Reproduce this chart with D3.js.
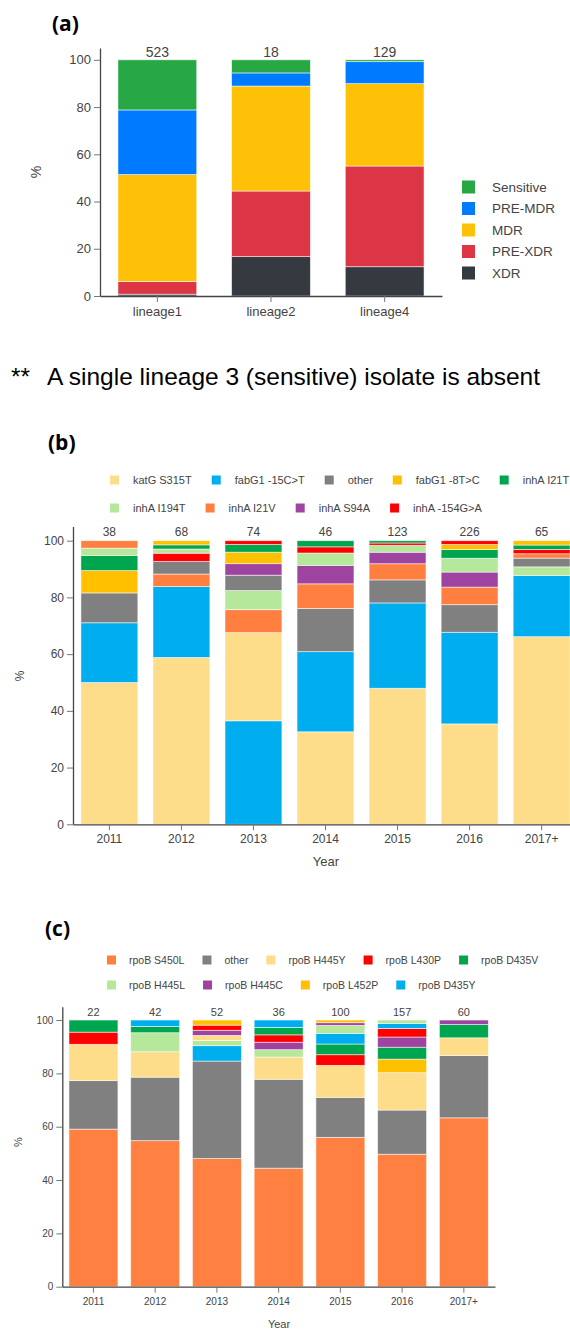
<!DOCTYPE html>
<html>
<head>
<meta charset="utf-8">
<script src="https://cdn.jsdelivr.net/npm/d3@7"></script>
<style>
  body { margin: 0; background: #fff; }
  svg { display: block; }
  text { font-family: "Liberation Sans", Arial, sans-serif; fill: #444; }
</style>
</head>
<body>
<svg id="chart" width="570" height="1331"></svg>
<script>
// ---------- Panel (a): resistance class by lineage (isolate counts) ----------
const lineages = ["lineage1", "lineage2", "lineage4"];
const classNames = ["XDR", "PRE-XDR", "MDR", "PRE-MDR", "Sensitive"];          // stacked bottom -> top
const classColors = ["#343a40", "#dc3545", "#ffc107", "#007bff", "#28a745"];
const countXDR = [4, 3, 16];
const countPreXDR = [28, 5, 55];
const countMDR = [237, 8, 45];
const countPreMDR = [143, 1, 12];
const countSensitive = [111, 1, 1];

// ---------- Panel (b): isoniazid resistance mutations by year ----------
const years = ["2011", "2012", "2013", "2014", "2015", "2016", "2017+"];
const inhNames = ["katG S315T", "fabG1 -15C>T", "other", "fabG1 -8T>C", "inhA I21T",
                  "inhA I194T", "inhA I21V", "inhA S94A", "inhA -154G>A"];
const inhColors = ["#fddc8a", "#00adef", "#808080", "#ffc000", "#00a550",
                   "#b5e89a", "#ff7f41", "#9e44a0", "#ff0000"];
const katG_S315T   = [19, 40, 23, 15, 59, 80, 43];
const fabG1_m15CT  = [8, 17, 27, 13, 37, 73, 14];
const inhOther     = [4, 3, 4, 7, 10, 22, 2];
const fabG1_m8TC   = [3, 1, 3, 0, 0, 4, 1];
const inhA_I21T    = [2, 1, 2, 1, 1, 7, 1];
const inhA_I194T   = [1, 1, 5, 2, 3, 11, 2];
const inhA_I21V    = [1, 3, 6, 4, 7, 14, 1];
const inhA_S94A    = [0, 0, 3, 3, 5, 12, 0];
const inhA_m154GA  = [0, 2, 1, 1, 1, 3, 1];
// order used when two mutations have the same count in a year
const inhTieOrder = ["katG S315T", "fabG1 -15C>T", "inhA I194T", "inhA I21V", "inhA S94A",
                     "other", "inhA -154G>A", "inhA I21T", "fabG1 -8T>C"];

// ---------- Panel (c): rifampicin resistance mutations by year ----------
const rifNames = ["rpoB S450L", "other", "rpoB H445Y", "rpoB L430P", "rpoB D435V",
                  "rpoB H445L", "rpoB H445C", "rpoB L452P", "rpoB D435Y"];
const rifColors = ["#ff8040", "#808080", "#fddc8a", "#ff0000", "#00a550",
                   "#b5e89a", "#9e44a0", "#ffc000", "#00adef"];
const rpoB_S450L = [13, 23, 25, 16, 56, 78, 38];
const rifOther   = [4, 10, 19, 12, 15, 26, 14];
const rpoB_H445Y = [3, 4, 1, 3, 12, 22, 4];
const rpoB_L430P = [1, 0, 1, 1, 4, 5, 0];
const rpoB_D435V = [1, 1, 0, 1, 4, 7, 3];
const rpoB_H445L = [0, 3, 1, 1, 3, 2, 0];
const rpoB_H445C = [0, 0, 1, 1, 1, 6, 1];
const rpoB_L452P = [0, 0, 1, 0, 1, 8, 0];
const rpoB_D435Y = [0, 1, 3, 1, 4, 3, 0];
const rifTieOrder = ["rpoB S450L", "other", "rpoB H445L", "rpoB H445Y", "rpoB H445C",
                     "rpoB L430P", "rpoB D435V", "rpoB D435Y", "rpoB L452P"];

const yTicks = [0, 20, 40, 60, 80, 100];
const svg = d3.select("#chart");

function stackedPanel(cfg) {
  const g = svg.append("g");
  const x = d3.scaleBand().domain(cfg.categories).range(cfg.xRange)
    .paddingInner(cfg.padInner).paddingOuter(cfg.padOuter);
  const y = d3.scaleLinear().domain([0, 105]).range(cfg.yRange);

  cfg.categories.forEach((cat, i) => {
    const total = d3.sum(cfg.counts, s => s[i]);
    let idx = d3.range(cfg.counts.length).filter(k => cfg.counts[k][i] > 0);
    if (cfg.tieOrder) {
      // largest share at the bottom of every bar
      idx.sort((a, b) => (cfg.counts[b][i] - cfg.counts[a][i]) ||
        (cfg.tieOrder.indexOf(cfg.names[a]) - cfg.tieOrder.indexOf(cfg.names[b])));
    }
    let acc = 0;
    idx.forEach(k => {
      const pct = cfg.counts[k][i] / total * 100;
      g.append("rect")
        .attr("x", x(cat)).attr("width", x.bandwidth())
        .attr("y", y(acc + pct)).attr("height", y(acc) - y(acc + pct))
        .attr("fill", cfg.colors[k])
        .attr("stroke", "#ffffff").attr("stroke-width", 0.8).attr("stroke-opacity", 0.65);
      acc += pct;
    });
    g.append("text")
      .attr("x", x(cat) + x.bandwidth() / 2).attr("y", y(100) - cfg.labelGap)
      .attr("text-anchor", "middle").style("font-size", cfg.labelSize + "px")
      .text(total);
  });

  const yAxis = g.append("g").attr("transform", `translate(${cfg.xRange[0]},0)`)
    .call(d3.axisLeft(y).tickValues(yTicks).tickSize(6).tickSizeOuter(0).tickPadding(3));
  const xAxis = g.append("g").attr("transform", `translate(0,${cfg.yRange[0]})`)
    .call(d3.axisBottom(x).tickSize(6).tickSizeOuter(0).tickPadding(cfg.xTickPad));
  [yAxis, xAxis].forEach(ax => {
    ax.select(".domain").attr("stroke", "#444").attr("stroke-width", 1.3);
    ax.selectAll(".tick line").attr("stroke", "#777");
    ax.selectAll(".tick text").attr("fill", "#444")
      .style("font-family", '"Liberation Sans", Arial, sans-serif');
  });
  yAxis.selectAll(".tick text").style("font-size", cfg.tickSize + "px");
  xAxis.selectAll(".tick text").style("font-size", cfg.xTickSize + "px");

  g.append("text")
    .attr("transform", `translate(${cfg.pctX},${cfg.pctY}) rotate(-90)`)
    .attr("text-anchor", "middle").attr("dy", "0.35em")
    .style("font-size", cfg.pctSize + "px").text("%");
  return g;
}

function flowLegend(names, colors, rows, cfg) {
  const g = svg.append("g");
  let idx = 0;
  rows.forEach((count, ri) => {
    let cx = cfg.x0;
    const cy = cfg.y0 + ri * cfg.rowGap;
    for (let j = 0; j < count; j++, idx++) {
      g.append("rect").attr("x", cx).attr("y", cy - cfg.sq / 2)
        .attr("width", cfg.sq).attr("height", cfg.sq).attr("fill", colors[idx]);
      const t = g.append("text").attr("x", cx + cfg.textOff).attr("y", cy).attr("dy", "0.35em")
        .style("font-size", cfg.fontSize + "px").text(names[idx]);
      cx += cfg.textOff + t.node().getComputedTextLength() + cfg.gap;
    }
  });
}

function panelTitle(label, x, y) {
  svg.append("text").attr("x", x).attr("y", y)
    .style("font-family", '"Open Sans", "Liberation Sans", sans-serif')
    .style("font-weight", "bold").style("font-size", "21px").style("fill", "#000")
    .text(label);
}

// ----- (a) -----
panelTitle("(a)", 52, 31);
stackedPanel({
  categories: lineages,
  names: classNames, colors: classColors,
  counts: [countXDR, countPreXDR, countMDR, countPreMDR, countSensitive],
  xRange: [100, 442], yRange: [296, 48], padInner: 0.307, padOuter: 0.158,
  labelGap: 3, labelSize: 14, tickSize: 13, xTickSize: 13, xTickPad: 5,
  pctX: 36, pctY: 172, pctSize: 14
});
// legend, top entry is the top of the stack
{
  const lg = svg.append("g");
  const order = d3.range(classNames.length).reverse();
  order.forEach((k, r) => {
    const cy = 187 + r * 21.5;
    lg.append("rect").attr("x", 462).attr("y", cy - 6.5).attr("width", 13).attr("height", 13)
      .attr("fill", classColors[k]);
    lg.append("text").attr("x", 492).attr("y", cy).attr("dy", "0.35em")
      .style("font-size", "13.5px").text(classNames[k]);
  });
}

// footnote
{
  const note = svg.append("g")
    .style("font-family", '"Open Sans", "Liberation Sans", sans-serif')
    .style("font-size", "24.5px");
  note.append("text").attr("x", 11).attr("y", 385).style("fill", "#000").text("**");
  note.append("text").attr("x", 47).attr("y", 385).style("fill", "#000")
    .text("A single lineage 3 (sensitive) isolate is absent");
}

// ----- (b) -----
panelTitle("(b)", 48, 450);
flowLegend(inhNames, inhColors, [5, 4], {
  x0: 110, y0: 480, rowGap: 28, sq: 9, textOff: 23, gap: 20, fontSize: 11
});
stackedPanel({
  categories: years,
  names: inhNames, colors: inhColors,
  counts: [katG_S315T, fabG1_m15CT, inhOther, fabG1_m8TC, inhA_I21T,
           inhA_I194T, inhA_I21V, inhA_S94A, inhA_m154GA],
  tieOrder: inhTieOrder,
  xRange: [73, 578], yRange: [824.3, 526.5], padInner: 0.21, padOuter: 0.11,
  labelGap: 4.5, labelSize: 12, tickSize: 12, xTickSize: 12, xTickPad: 4,
  pctX: 20, pctY: 676, pctSize: 12
});
svg.append("text").attr("x", 326).attr("y", 866).attr("text-anchor", "middle")
  .style("font-size", "13px").text("Year");

// ----- (c) -----
panelTitle("(c)", 45, 936);
flowLegend(rifNames, rifColors, [5, 4], {
  x0: 107, y0: 960, rowGap: 25, sq: 9, textOff: 22, gap: 18, fontSize: 10.5
});
stackedPanel({
  categories: years,
  names: rifNames, colors: rifColors,
  counts: [rpoB_S450L, rifOther, rpoB_H445Y, rpoB_L430P, rpoB_D435V,
           rpoB_H445L, rpoB_H445C, rpoB_L452P, rpoB_D435Y],
  tieOrder: rifTieOrder,
  xRange: [62.3, 495], yRange: [1286.7, 1006.7], padInner: 0.207, padOuter: 0.108,
  labelGap: 4.5, labelSize: 11, tickSize: 10, xTickSize: 10, xTickPad: 5,
  pctX: 18, pctY: 1142, pctSize: 11
});
svg.append("text").attr("x", 279).attr("y", 1328).attr("text-anchor", "middle")
  .style("font-size", "11px").text("Year");
</script>
</body>
</html>
